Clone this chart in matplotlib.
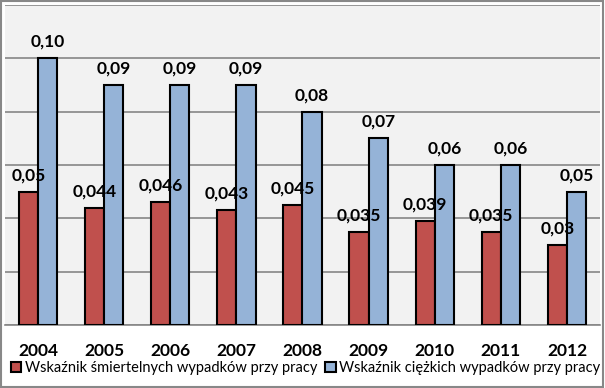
import matplotlib.pyplot as plt
import numpy as np
from matplotlib.patches import Rectangle

plt.rcParams['font.family'] = ['Lato', 'DejaVu Sans']

years = ['2004', '2005', '2006', '2007', '2008', '2009', '2010', '2011', '2012']
fatal = [0.05, 0.044, 0.046, 0.043, 0.045, 0.035, 0.039, 0.035, 0.03]
fatal_labels = ['0,05', '0,044', '0,046', '0,043', '0,045', '0,035', '0,039', '0,035', '0,03']
serious = [0.10, 0.09, 0.09, 0.09, 0.08, 0.07, 0.06, 0.06, 0.05]
serious_labels = ['0,10', '0,09', '0,09', '0,09', '0,08', '0,07', '0,06', '0,06', '0,05']

red = '#c0504d'
blue = '#95b3d7'

fig = plt.figure(figsize=(6.05, 3.88), dpi=100)
fig.patch.set_facecolor('white')
fig.patches.append(Rectangle((0.002, 0.003), 0.994, 0.994, transform=fig.transFigure,
                             fill=False, edgecolor='#888888', linewidth=1.5))

ax = fig.add_axes([5 / 605, 1 - 325 / 388, 595 / 605, 320 / 388])
ax.set_facecolor('#f2f2f2')

x = np.arange(len(years))
w = 0.29
ax.bar(x - w / 2, fatal, w, color=red, edgecolor='black', linewidth=1.5, zorder=3,
       label='Wskaźnik śmiertelnych wypadków przy pracy')
ax.bar(x + w / 2, serious, w, color=blue, edgecolor='black', linewidth=1.5, zorder=3,
       label='Wskaźnik ciężkich wypadków przy pracy')

for xi, v, t in zip(x, fatal, fatal_labels):
    ax.annotate(t, (xi - w / 2, v), xytext=(0, 6), textcoords='offset points',
                ha='center', va='bottom', fontsize=12.5, fontweight='bold', zorder=4)
for xi, v, t in zip(x, serious, serious_labels):
    ax.annotate(t, (xi + w / 2, v), xytext=(0, 6), textcoords='offset points',
                ha='center', va='bottom', fontsize=12.5, fontweight='bold', zorder=4)

ax.set_xlim(-0.5, len(years) - 0.5)
ax.set_ylim(0, 0.12)
ax.set_yticks(np.arange(0, 0.121, 0.02))
ax.yaxis.grid(True, color='#868686', linewidth=1.2, zorder=0)
ax.tick_params(axis='y', left=False, labelleft=False)
ax.set_xticks(x)
ax.set_xticklabels(years, fontsize=12.5, fontweight='bold')
ax.tick_params(axis='x', length=0, pad=13)
for s in ['left', 'right', 'top']:
    ax.spines[s].set_visible(False)
ax.spines['bottom'].set_color('#868686')
ax.spines['bottom'].set_linewidth(1.2)

fig.legend(loc='lower center', bbox_to_anchor=(0.505, 0.018), ncol=2, frameon=False,
           fontsize=10.5, handlelength=0.75, handleheight=0.75, handletextpad=0.25,
           columnspacing=0.5, borderaxespad=0)

fig.savefig('out.png', dpi=100)
